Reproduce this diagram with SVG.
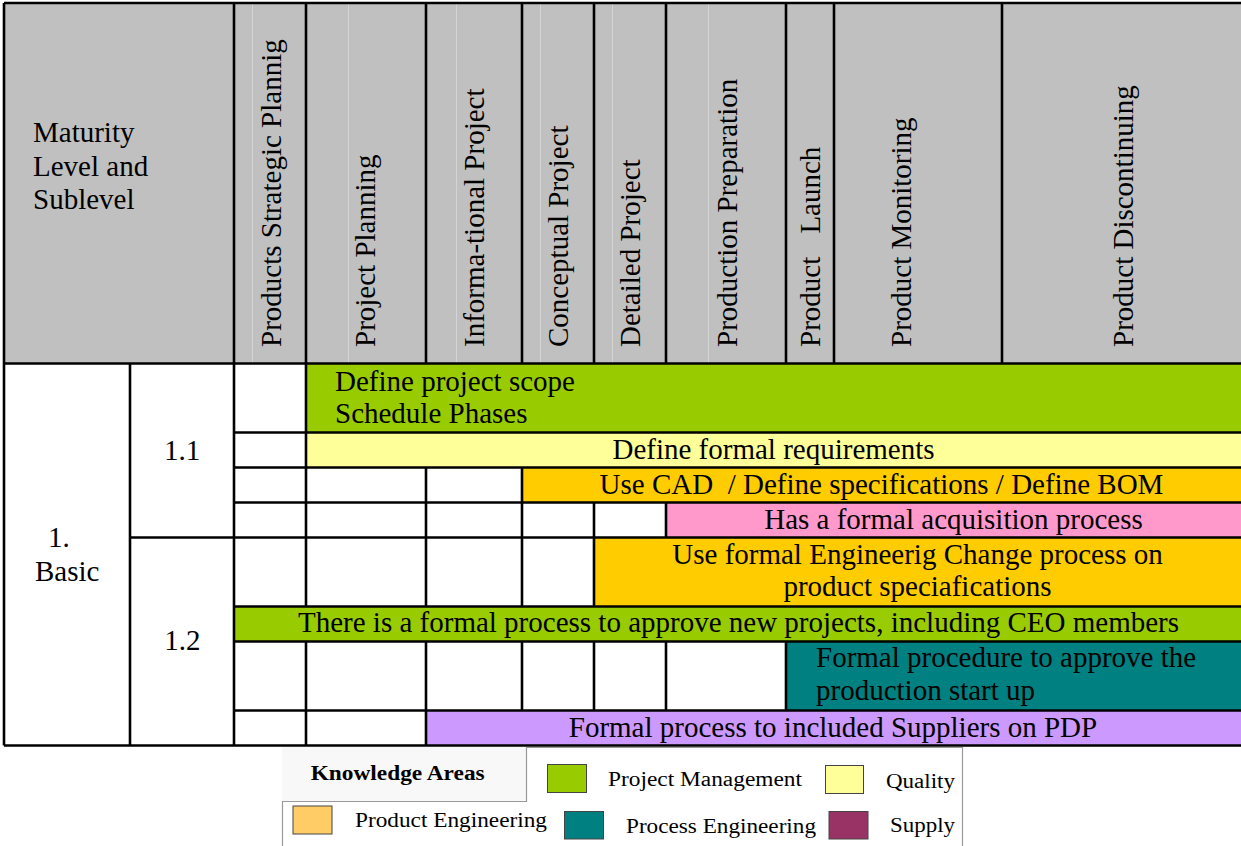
<svg xmlns="http://www.w3.org/2000/svg" width="1241" height="846" viewBox="0 0 1241 846">
<style>
.t{font-family:"Liberation Serif","Times New Roman",serif;font-size:29px;fill:#000}
.c{text-anchor:middle}
.lg{font-family:"Liberation Serif","Times New Roman",serif;font-size:20px;fill:#000}
.ln{stroke:#000;stroke-width:2.6;fill:none}
.fl{stroke:#d4d4d4;stroke-width:1;fill:none}
.sw{stroke:#444;stroke-width:1}
</style>
<rect x="0" y="0" width="1241" height="846" fill="#fff"/>

<g id="header">
<rect x="4" y="3" width="1237" height="360.5" fill="#c0c0c0"/>
<path class="fl" d="M252.5 3V363M348.5 3V363M456.5 3V363M540.5 3V363M612.5 3V363M708.5 3V363"/>
<text class="t" x="33" y="142">Maturity</text>
<text class="t" x="33" y="175.5">Level and</text>
<text class="t" x="33" y="209">Sublevel</text>
<text class="t" transform="translate(280.5,347) rotate(-90)">Products Strategic Plannig</text>
<text class="t" transform="translate(375,347) rotate(-90)">Project Planning</text>
<text class="t" transform="translate(484,347) rotate(-90)">Informa-tional Project</text>
<text class="t" transform="translate(567.5,347) rotate(-90)">Conceptual Project</text>
<text class="t" transform="translate(640,347) rotate(-90)">Detailed Project</text>
<text class="t" transform="translate(737,347) rotate(-90)">Production Preparation</text>
<text class="t" transform="translate(820,347) rotate(-90)"><tspan x="0">Product</tspan><tspan x="113.4">Launch</tspan></text>
<text class="t" transform="translate(911,347) rotate(-90)">Product Monitoring</text>
<text class="t" transform="translate(1133,347) rotate(-90)">Product Discontinuing</text>
</g>

<g id="level-1-basic">
<text class="t" x="48" y="547"><tspan x="48">1.</tspan><tspan x="35" y="580.5">Basic</tspan></text>
</g>
<g id="sublevel-1-1">
<text class="t c" x="182" y="459.5">1.1</text>
</g>
<g id="sublevel-1-2">
<text class="t c" x="182.4" y="650">1.2</text>
</g>

<g id="row-scope">
<rect x="306" y="363.5" width="935" height="69" fill="#99cc00"/>
<text class="t" x="335" y="390.5">Define project scope</text>
<text class="t" x="335" y="423">Schedule Phases</text>
</g>
<g id="row-requirements">
<rect x="306" y="432.5" width="935" height="35" fill="#ffff99"/>
<text class="t c" x="773.5" y="458.5">Define formal requirements</text>
</g>
<g id="row-cad">
<rect x="522" y="467.5" width="719" height="35" fill="#ffcc00"/>
<text class="t c" x="881.5" y="494" xml:space="preserve">Use CAD  / Define specifications / Define BOM</text>
</g>
<g id="row-acquisition">
<rect x="666" y="502.5" width="575" height="35" fill="#ff99cc"/>
<text class="t c" x="953.5" y="528.5">Has a formal acquisition process</text>
</g>
<g id="row-change">
<rect x="594" y="537.5" width="647" height="69" fill="#ffcc00"/>
<text class="t c" x="917.5" y="564">Use formal Engineerig Change process on</text>
<text class="t c" x="917.5" y="595.5">product speciafications</text>
</g>
<g id="row-approve-projects">
<rect x="234" y="606.5" width="1007" height="35" fill="#99cc00"/>
<text class="t c" x="738.5" y="632">There is a formal process to approve new projects, including CEO members</text>
</g>
<g id="row-startup">
<rect x="786" y="641.5" width="455" height="69" fill="#008080"/>
<text class="t" x="816" y="667">Formal procedure to approve the</text>
<text class="t" x="816" y="700">production start up</text>
</g>
<g id="row-suppliers">
<rect x="426" y="710.5" width="815" height="35" fill="#cc99ff"/>
<text class="t c" x="833" y="736.5">Formal process to included Suppliers on PDP</text>
</g>

<g id="grid">
<path class="ln" d="M4 3H1241M4 363.5H1241M4 745.5H1241M234 432.5H1241M234 467.5H1241M234 502.5H1241M130 537.5H1241M234 606.5H1241M234 641.5H1241M234 710.5H1241"/>
<path class="ln" d="M4 3V745.5M130 363.5V745.5M234 3V745.5M306 3V606.5M306 641.5V745.5M426 3V363.5M426 467.5V606.5M426 641.5V745.5M522 3V363.5M522 467.5V606.5M522 641.5V710.5M594 3V363.5M594 502.5V606.5M594 641.5V710.5M666 3V363.5M666 502.5V537.5M666 641.5V710.5M786 3V363.5M786 641.5V710.5M834 3V363.5M1002 3V363.5"/>
</g>

<g id="legend">
<rect x="282" y="747" width="244" height="54" fill="#f8f8f8"/>
<path d="M282.5 846V801.5H526.5V747.5H962.5V846" fill="none" stroke="#999" stroke-width="1.2"/>
<text class="lg" x="310.7" y="780" font-weight="bold" textLength="174" lengthAdjust="spacingAndGlyphs">Knowledge Areas</text>
<rect class="sw" x="547.5" y="764.5" width="39" height="28" fill="#99cc00"/>
<text class="lg" x="608" y="785.5" textLength="194" lengthAdjust="spacingAndGlyphs">Project Management</text>
<rect class="sw" x="825.5" y="765.5" width="38" height="28" fill="#ffff99"/>
<text class="lg" x="886" y="788" textLength="69" lengthAdjust="spacingAndGlyphs">Quality</text>
<rect class="sw" x="293" y="806" width="39" height="28" fill="#ffcc66"/>
<text class="lg" x="355" y="827" textLength="192" lengthAdjust="spacingAndGlyphs">Product Engineering</text>
<rect class="sw" x="564.5" y="811.5" width="39" height="27.5" fill="#008080"/>
<text class="lg" x="626" y="832.5" textLength="190" lengthAdjust="spacingAndGlyphs">Process Engineering</text>
<rect class="sw" x="829" y="811.5" width="39" height="27.5" fill="#993366"/>
<text class="lg" x="890" y="831.5" textLength="65" lengthAdjust="spacingAndGlyphs">Supply</text>
</g>
</svg>
